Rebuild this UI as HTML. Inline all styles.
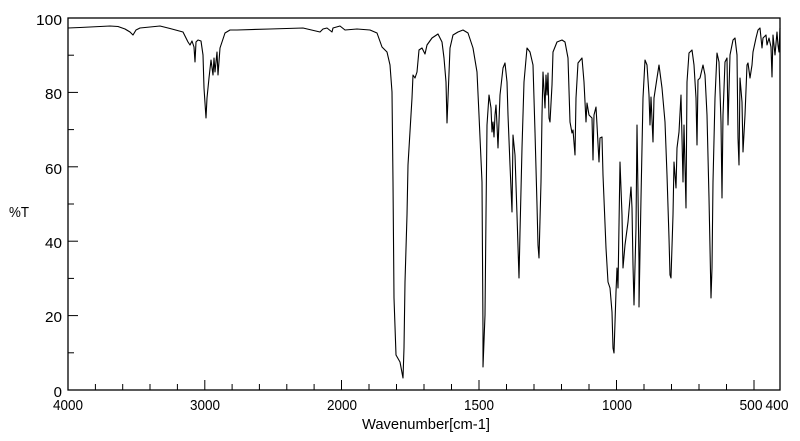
<!DOCTYPE html>
<html><head><meta charset="utf-8"><style>
body{margin:0;background:#fff;}
svg{display:block;}
text{font-family:"Liberation Sans",sans-serif;font-size:15px;fill:#000;}
</style></head><body>
<svg width="800" height="441" viewBox="0 0 800 441" xmlns="http://www.w3.org/2000/svg">
<rect x="68" y="18" width="712" height="372" fill="none" stroke="#000" stroke-width="1.3"/>
<g stroke="#000" stroke-width="1">
<!-- y ticks -->
<line x1="68" y1="55.2" x2="74" y2="55.2"/><line x1="68" y1="92.4" x2="78" y2="92.4"/>
<line x1="68" y1="129.6" x2="74" y2="129.6"/><line x1="68" y1="166.8" x2="78" y2="166.8"/>
<line x1="68" y1="204" x2="74" y2="204"/><line x1="68" y1="241.2" x2="78" y2="241.2"/>
<line x1="68" y1="278.4" x2="74" y2="278.4"/><line x1="68" y1="315.6" x2="78" y2="315.6"/>
<line x1="68" y1="352.8" x2="74" y2="352.8"/>
<!-- x ticks -->
<line x1="95.4" y1="390" x2="95.4" y2="384"/><line x1="122.7" y1="390" x2="122.7" y2="384"/>
<line x1="150" y1="390" x2="150" y2="384"/><line x1="177.4" y1="390" x2="177.4" y2="384"/>
<line x1="204.8" y1="390" x2="204.8" y2="380"/>
<line x1="232.1" y1="390" x2="232.1" y2="384"/><line x1="259.4" y1="390" x2="259.4" y2="384"/>
<line x1="286.8" y1="390" x2="286.8" y2="384"/><line x1="314.1" y1="390" x2="314.1" y2="384"/>
<line x1="341.5" y1="390" x2="341.5" y2="380"/>
<line x1="369" y1="390" x2="369" y2="384"/><line x1="396.5" y1="390" x2="396.5" y2="384"/>
<line x1="424" y1="390" x2="424" y2="384"/><line x1="451.5" y1="390" x2="451.5" y2="384"/>
<line x1="479" y1="390" x2="479" y2="380"/>
<line x1="506.5" y1="390" x2="506.5" y2="384"/><line x1="534" y1="390" x2="534" y2="384"/>
<line x1="561.5" y1="390" x2="561.5" y2="384"/><line x1="589" y1="390" x2="589" y2="384"/>
<line x1="616.5" y1="390" x2="616.5" y2="380"/>
<line x1="644" y1="390" x2="644" y2="384"/><line x1="671.5" y1="390" x2="671.5" y2="384"/>
<line x1="699" y1="390" x2="699" y2="384"/><line x1="726.5" y1="390" x2="726.5" y2="384"/>
<line x1="754" y1="390" x2="754" y2="380"/>
</g>
<g text-anchor="end">
<text x="62" y="25" textLength="26" lengthAdjust="spacingAndGlyphs">100</text>
<text x="62" y="99" textLength="17" lengthAdjust="spacingAndGlyphs">80</text>
<text x="62" y="174" textLength="17" lengthAdjust="spacingAndGlyphs">60</text>
<text x="62" y="248" textLength="17" lengthAdjust="spacingAndGlyphs">40</text>
<text x="62" y="322" textLength="17" lengthAdjust="spacingAndGlyphs">20</text>
<text x="62" y="397">0</text>
</g>
<text x="9" y="217" textLength="20" lengthAdjust="spacingAndGlyphs">%T</text>
<g text-anchor="middle">
<text x="68" y="410" textLength="30" lengthAdjust="spacingAndGlyphs">4000</text>
<text x="205" y="410" textLength="30" lengthAdjust="spacingAndGlyphs">3000</text>
<text x="342" y="410" textLength="30" lengthAdjust="spacingAndGlyphs">2000</text>
<text x="479" y="410" textLength="30" lengthAdjust="spacingAndGlyphs">1500</text>
<text x="617" y="410" textLength="30" lengthAdjust="spacingAndGlyphs">1000</text>
<text x="751" y="410" textLength="23" lengthAdjust="spacingAndGlyphs">500</text>
<text x="777" y="410" textLength="23" lengthAdjust="spacingAndGlyphs">400</text>
<text x="426" y="429" textLength="128" lengthAdjust="spacingAndGlyphs">Wavenumber[cm-1]</text>
</g>
<polyline fill="none" stroke="#000" stroke-width="1.1" stroke-linejoin="round" points="
68,28 80,27.5 90,27 100,26.5 110,26 118,26.5 125,29 130,32 133,35 136,30 140,28 160,26 170,28.5 183,32 188,42 190,45 192,41 194,47 195,62 196,42 198,40 201,41 203,55 204,88 206,118 207,98 209,78 211,60 213,75 214,58 215,72 217,52 218,75 220,48 222,42 225,33 230,30 237,30 270,29 303,28 320,32 323,29 327,28 332,32 333,28 340,26 345,30 357,29 370,30 377,33 382,47 387,52 390,65 392,92 393,182 394,298 396,355 400,362 403,378 404,348 405,282 407,215 408,165 412,98 413,75 415,78 417,72 419,50 422,48 425,54 427,45 432,38 438,34 442,42 444,58 446,82 447,123 448,98 450,48 453,35 458,32 463,30 468,33 473,48 477,72 479,115 482,182 483,332 483,367 485,315 486,215 487,125 489,95 491,108 492,132 493,122 494,137 495,115 496,105 497,125 498,148 500,95 503,68 505,63 507,82 508,115 510,165 512,212 513,135 515,155 517,215 519,278 520,232 522,148 524,82 527,48 530,52 533,65 535,132 537,205 538,245 539,258 541,182 542,115 543,72 545,108 546,75 547,95 548,73 549,118 550,122 552,85 553,52 557,42 562,40 565,42 568,58 570,122 572,133 573,130 575,155 576,98 578,63 582,58 584,82 586,122 587,103 589,115 592,118 593,160 594,115 596,107 597,125 599,162 600,138 602,137 603,175 606,248 608,282 610,288 612,312 613,348 614,353 616,292 617,268 618,288 620,162 622,215 623,268 625,245 628,222 631,187 632,208 633,265 634,305 636,228 637,125 639,262 639,307 641,198 643,98 645,60 647,65 649,95 650,125 651,97 653,142 654,98 657,78 659,65 662,88 665,122 667,175 669,238 670,275 671,278 673,215 674,162 676,188 677,148 679,132 681,95 683,182 684,125 686,208 687,82 689,53 692,50 694,65 696,98 697,145 698,80 700,78 703,65 705,75 707,115 709,198 711,298 712,268 713,182 715,98 717,53 719,62 721,122 722,198 723,115 725,62 727,58 728,125 730,55 733,40 735,38 737,55 738,138 739,165 740,78 742,102 743,152 745,115 747,65 748,63 750,78 752,65 753,52 756,38 758,30 760,28 762,48 763,38 766,35 767,45 769,38 771,47 772,77 773,35 775,55 777,32 778,45 779,52 780,28"/>
</svg>
</body></html>
